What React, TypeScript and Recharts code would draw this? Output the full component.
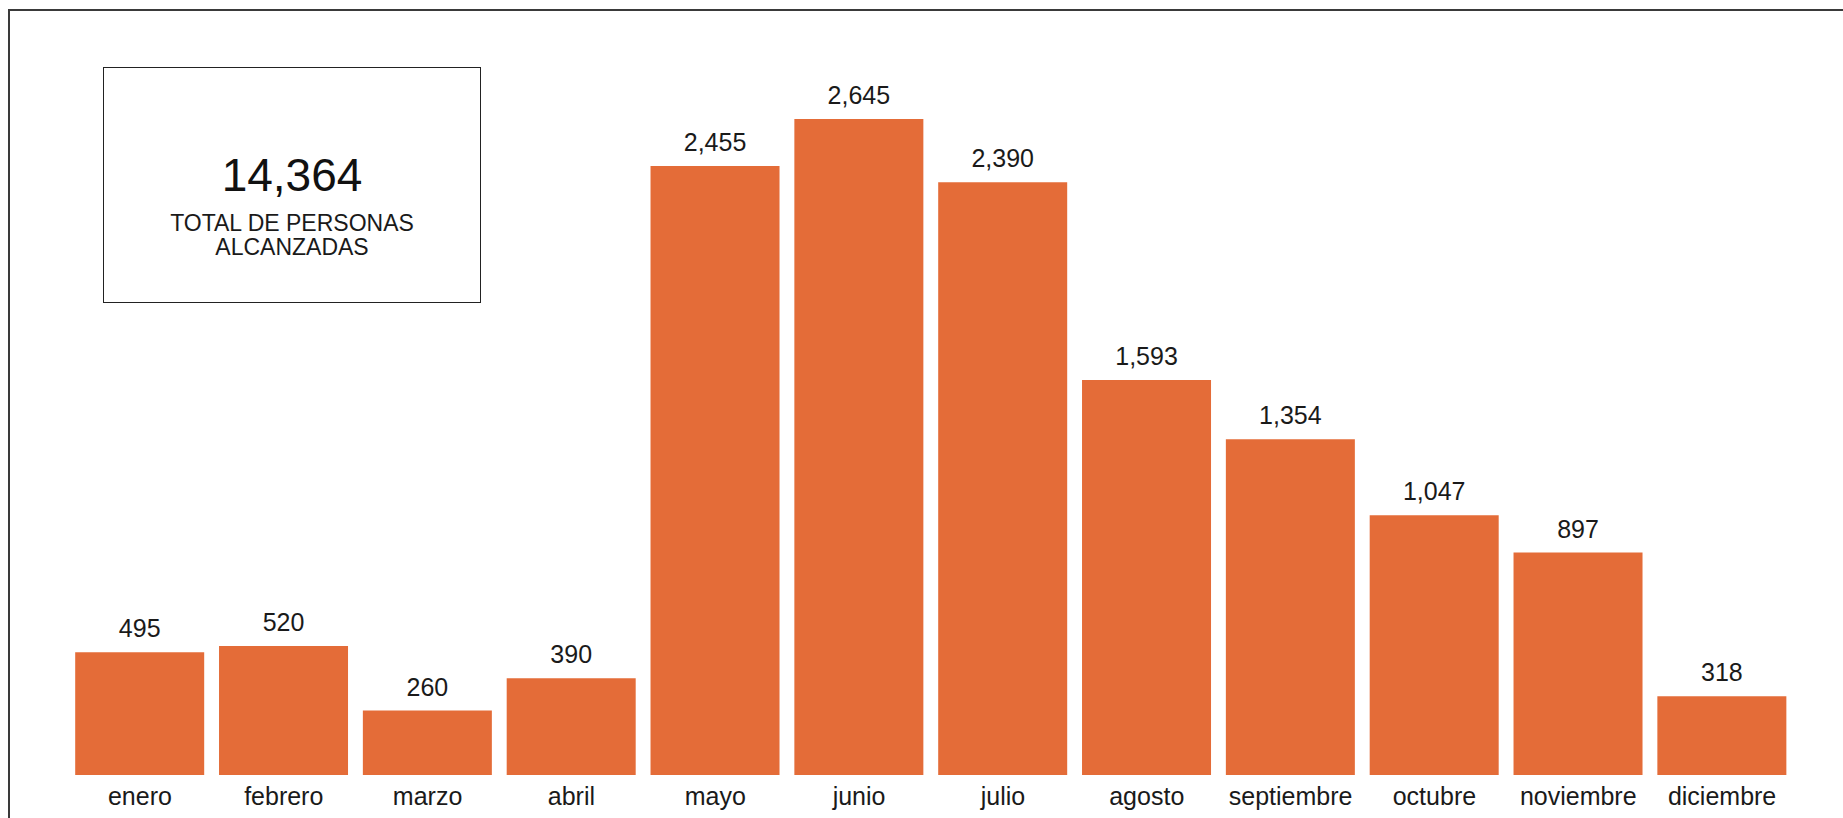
import { BarChart, Bar, XAxis, YAxis, LabelList } from "recharts";

const months = [
  "enero",
  "febrero",
  "marzo",
  "abril",
  "mayo",
  "junio",
  "julio",
  "agosto",
  "septiembre",
  "octubre",
  "noviembre",
  "diciembre",
];

const personas = [495, 520, 260, 390, 2455, 2645, 2390, 1593, 1354, 1047, 897, 318];

const totalLabel = ["TOTAL DE PERSONAS", "ALCANZADAS"];

const chartData = months.map((name, i) => ({ name, personas: personas[i] }));

const total = personas.reduce((sum, v) => sum + v, 0);

const fmt = (v: number) => v.toLocaleString("en-US");

const FONT = "'Liberation Sans', Arial, sans-serif";

export default function App() {
  return (
    <div
      style={{
        position: "fixed",
        left: 0,
        top: 0,
        width: 1843,
        height: 818,
        background: "#fff",
        overflow: "hidden",
        fontFamily: FONT,
      }}
    >
      {/* outer frame, cut off at the right and bottom */}
      <div
        style={{
          position: "absolute",
          left: 8,
          top: 9,
          width: 1900,
          height: 900,
          borderLeft: "2px solid #3a3a3a",
          borderTop: "2px solid #3a3a3a",
        }}
      />

      <BarChart
        width={1843}
        height={818}
        data={chartData}
        margin={{ top: 119, right: 49, left: 68, bottom: 13 }}
        barCategoryGap="5%"
        style={{ position: "absolute", left: 0, top: 0 }}
      >
        <XAxis
          dataKey="name"
          height={30}
          axisLine={false}
          tickLine={false}
          tickMargin={6}
          interval={0}
          tick={{ fill: "#1a1a1a", fontSize: 25, fontFamily: FONT }}
        />
        <YAxis hide domain={[0, "dataMax"]} />
        <Bar dataKey="personas" fill="#E46C38" isAnimationActive={false}>
          <LabelList
            dataKey="personas"
            position="top"
            offset={15}
            formatter={(v: any) => fmt(Number(v))}
            style={{ fill: "#1a1a1a", fontSize: 25, fontFamily: FONT }}
          />
        </Bar>
      </BarChart>

      {/* total box */}
      <div
        style={{
          position: "absolute",
          left: 103,
          top: 67,
          width: 378,
          height: 236,
          border: "1.5px solid #222",
          boxSizing: "border-box",
          background: "#fff",
        }}
      >
        <div
          style={{
            position: "absolute",
            left: 0,
            right: 0,
            top: 84,
            textAlign: "center",
            fontSize: 46,
            lineHeight: "46px",
            color: "#111",
          }}
        >
          {fmt(total)}
        </div>
        <div
          style={{
            position: "absolute",
            left: 0,
            right: 0,
            top: 143,
            textAlign: "center",
            fontSize: 23,
            lineHeight: "24px",
            color: "#1a1a1a",
          }}
        >
          {totalLabel.map((line) => (
            <div key={line}>{line}</div>
          ))}
        </div>
      </div>
    </div>
  );
}
